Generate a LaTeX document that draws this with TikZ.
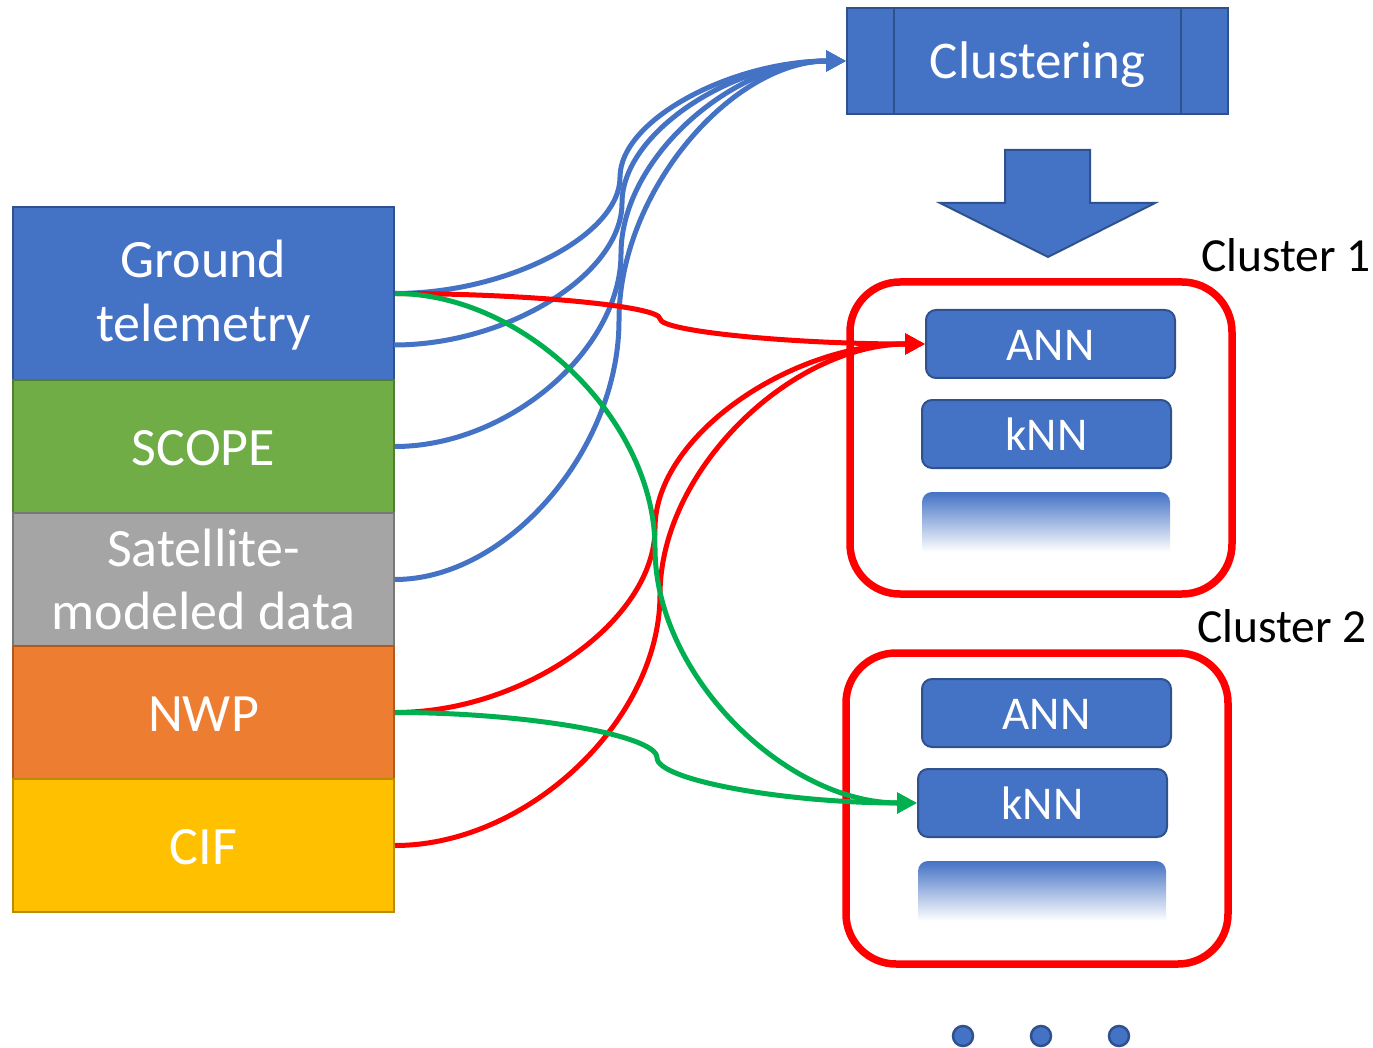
\documentclass[tikz,border=0pt]{standalone}
\usepackage{fontspec}
\setmainfont{Carlito}
\usetikzlibrary{arrows.meta,calc}

\definecolor{blueF}{HTML}{4472C4}
\definecolor{blueD}{HTML}{2F528F}
\definecolor{greenF}{HTML}{70AD47}
\definecolor{greenD}{HTML}{507E32}
\definecolor{grayF}{HTML}{A5A5A5}
\definecolor{grayD}{HTML}{787878}
\definecolor{orangeF}{HTML}{ED7D31}
\definecolor{orangeD}{HTML}{AE5A21}
\definecolor{goldF}{HTML}{FFC000}
\definecolor{goldD}{HTML}{BC8C00}
\definecolor{redL}{HTML}{FF0000}
\definecolor{greenL}{HTML}{00B050}

% curved elbow connector: leaves #2 horizontally, turns vertical at x=#4, enters #3 horizontally
\newcommand\elbowcurve[4]{%
  \draw[#1] let \p1=(#2), \p2=(#3) in
    (#2) .. controls ({(\x1+#4pt)/2}, \y1) and (#4pt, {\y1+(\y2-\y1)/4}) ..
    (#4pt, {(\y1+\y2)/2}) .. controls (#4pt, {\y1+3*(\y2-\y1)/4}) and ({(\x2+#4pt)/2}, \y2) .. (#3);
}

\tikzset{
  src/.style={draw, line width=2pt, minimum width=381pt, inner sep=0pt},
  srctext/.style={text=white, anchor=base, inner sep=0pt, font=\fontsize{54}{64}\selectfont},
  model/.style={draw=blueD, fill=blueF, line width=2pt, rounded corners=10pt,
    minimum width=249pt, minimum height=68pt, inner sep=0pt},
  modeltext/.style={text=white, anchor=base, inner sep=0pt, font=\fontsize{47}{56}\selectfont},
  clusterbox/.style={draw=redL, line width=7.5pt, rounded corners=50pt},
  clabel/.style={font=\fontsize{47.5}{56}\selectfont, text=black, inner sep=0pt, anchor=base west},
  conn/.style={line width=5pt, -{Triangle[length=20pt,width=20pt]}},
  bluecon/.style={conn, draw=blueF},
  redcon/.style={conn, draw=redL},
  greencon/.style={conn, draw=greenL},
  dot/.style={circle, draw=blueD, fill=blueF, line width=2.5pt, minimum size=20pt, inner sep=0pt},
}

\begin{document}
\begin{tikzpicture}[x=1pt,y=-1pt]
\useasboundingbox (0,0) rectangle (1373,1048);

% data sources stacked on the left
\node[src, fill=blueF, draw=blueD, minimum height=173pt] (gt) at (203.5,293.5) {};
\node[src, fill=greenF, draw=greenD, minimum height=133pt] (scope) at (203.5,446.5) {};
\node[src, fill=grayF, draw=grayD, minimum height=133pt] (sat) at (203.5,579.5) {};
\node[src, fill=orangeF, draw=orangeD, minimum height=133pt] (nwp) at (203.5,712.5) {};
\node[src, fill=goldF, draw=goldD, minimum height=133pt] (cif) at (203.5,845.5) {};
\coordinate (gt2) at (394,345);

\node[srctext] (gtA) at (203.5,278) {Ground};
\node[srctext] (gtB) at (203.5,342) {telemetry};
\node[srctext] (scopeT) at (203.5,465) {SCOPE};
\node[srctext] (satA) at (203.5,566) {Satellite-};
\node[srctext] (satB) at (203.5,629) {modeled data};
\node[srctext] (nwpT) at (203.5,731) {NWP};
\node[srctext] (cifT) at (203.5,864) {CIF};

% clustering process box
\node[draw=blueD, fill=blueF, line width=2pt, minimum width=381pt, minimum height=106pt,
  inner sep=0pt] (clus) at (1037.5,61) {};
\draw[blueD, line width=2pt] (894,8) -- (894,114) (1181,8) -- (1181,114);
\node[text=white, anchor=base, inner sep=0pt, font=\fontsize{53}{64}\selectfont]
  (clusT) at (1037.5,79) {Clustering};

% block arrow down
\draw[draw=blueD, fill=blueF, line width=2pt, line join=miter]
  (1005,150) -- (1090,150) -- (1090,203) -- (1155,203) -- (1048,257) -- (940,203) -- (1005,203) -- cycle;

% cluster 1
\draw[clusterbox] (850,282) rectangle (1232,594);
\node[clabel] (c1lab) at (1201,272) {Cluster 1};
\node[model] (ann1) at (1050.5,344) {};
\node[modeltext] (ann1T) at (1050.5,360) {ANN};
\node[model] (knn1) at (1046.5,434) {};
\node[modeltext] (knn1T) at (1046.5,450) {kNN};
\shade[top color=blueF, bottom color=white]
  (922,552) [rounded corners=10pt] -- (922,492) -- (1170,492) [sharp corners] -- (1170,552) -- cycle;

% cluster 2
\draw[clusterbox] (846,653) rectangle (1228,964);
\node[clabel] (c2lab) at (1197,642) {Cluster 2};
\node[model] (ann2) at (1046.5,713) {};
\node[modeltext] (ann2T) at (1046.5,729) {ANN};
\node[model] (knn2) at (1042.5,803) {};
\node[modeltext] (knn2T) at (1042.5,819) {kNN};
\shade[top color=blueF, bottom color=white]
  (918,921) [rounded corners=10pt] -- (918,861) -- (1166,861) [sharp corners] -- (1166,921) -- cycle;

% ellipsis dots
\node[dot] (d1) at (963,1036) {};
\node[dot] (d2) at (1041,1036) {};
\node[dot] (d3) at (1119,1036) {};

% connectors into clustering
\elbowcurve{bluecon}{gt.east}{clus.west}{620}
\elbowcurve{bluecon}{gt2}{clus.west}{622}
\elbowcurve{bluecon}{scope.east}{clus.west}{621}
\elbowcurve{bluecon}{sat.east}{clus.west}{619}

% connectors into cluster models
\elbowcurve{redcon}{gt.east}{ann1.west}{660}
\elbowcurve{redcon}{nwp.east}{ann1.west}{655}
\elbowcurve{redcon}{cif.east}{ann1.west}{660}
\elbowcurve{greencon}{gt.east}{knn2.west}{655}
\elbowcurve{greencon}{nwp.east}{knn2.west}{657}
\end{tikzpicture}
\end{document}
